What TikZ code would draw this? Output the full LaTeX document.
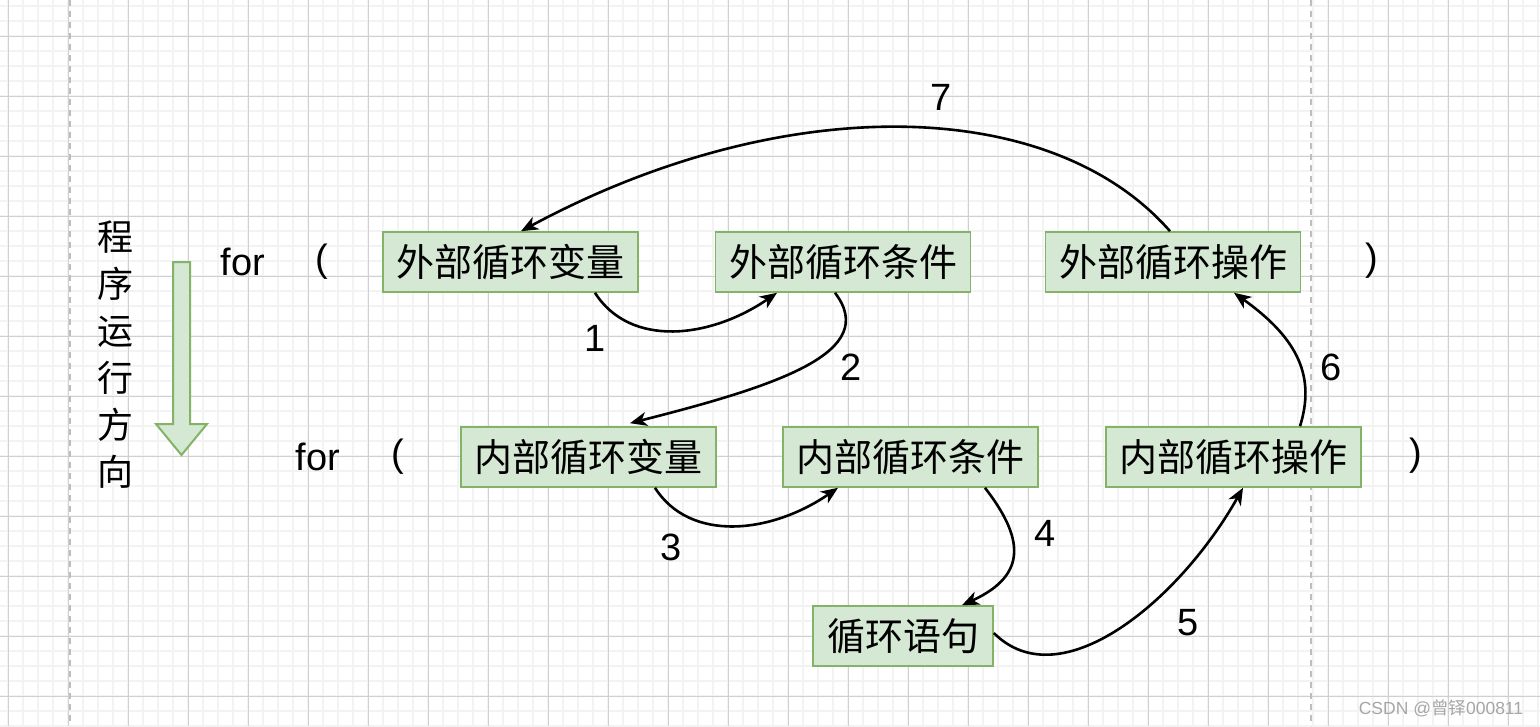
\documentclass[tikz,border=0pt]{standalone}
\usepackage{fontspec}
\setmainfont{Liberation Sans}
\newfontfamily\cjk{Noto Sans CJK SC}
\usetikzlibrary{arrows.meta}
\definecolor{boxfill}{HTML}{D5E8D4}
\definecolor{boxline}{HTML}{82B366}
\definecolor{gridmajor}{HTML}{D0D0D0}
\definecolor{gridminor}{HTML}{F3F3F3}
\definecolor{guide}{HTML}{BDBDBD}
\definecolor{wmark}{HTML}{A6A6A6}
\begin{document}
\begin{tikzpicture}[x=1pt,y=-1pt,
  stepbox/.style={draw=boxline, fill=boxfill, line width=1.6pt, minimum width=255pt, minimum height=60pt, inner sep=0pt, font=\cjk\fontsize{38}{40}\selectfont},
  txt/.style={inner sep=0pt, font=\fontsize{38}{40}\selectfont},
  flow/.style={line width=2.6pt, -{Stealth[length=17pt,width=14pt,inset=5pt]}},
  minorline/.style={gridminor, line width=2pt},
  majorline/.style={gridmajor, line width=1pt},
  guideline/.style={guide, line width=2pt, dash pattern=on 6pt off 5pt},
]
\useasboundingbox (0,0) rectangle (1540,726);
\fill[white] (0,0) rectangle (1540,726);
% grid
\foreach \i in {0,...,102} \draw[minorline] (8+15*\i,0) -- (8+15*\i,726);
\foreach \j in {0,...,48} \draw[minorline] (0,6+15*\j) -- (1540,6+15*\j);
\foreach \i in {0,...,25} \draw[majorline] (8+60*\i,0) -- (8+60*\i,726);
\foreach \j in {0,...,11} \draw[majorline] (0,36+60*\j) -- (1540,36+60*\j);
% guides
\draw[guideline] (70,0) -- (70,726);
\draw[guideline] (1311,0) -- (1311,726);

% direction text and block arrow
\node[anchor=north, inner sep=0pt, align=center, font=\cjk\fontsize{36}{47}\selectfont] (dir) at (115,221) {程\\序\\运\\行\\方\\向};
\draw[boxline, fill=boxfill, line width=2pt] (173,262) -- (190,262) -- (190,424) -- (207,424) -- (181.5,455) -- (156,424) -- (173,424) -- cycle;

% row texts
\node[txt, anchor=base] (for1) at (243,275) {for};
\node[txt] (lp1) at (322,262) {(};
\node[txt] (rp1) at (1372,261) {)};
\node[txt, anchor=base] (for2) at (318,470) {for};
\node[txt] (lp2) at (398,457) {(};
\node[txt] (rp2) at (1416,456) {)};

% boxes
\node[stepbox] (ov) at (510.5,262) {外部循环变量};
\node[stepbox] (oc) at (843,262) {外部循环条件};
\node[stepbox] (op) at (1173,262) {外部循环操作};
\node[stepbox] (iv) at (588.5,457) {内部循环变量};
\node[stepbox] (ic) at (910.5,457) {内部循环条件};
\node[stepbox] (ip) at (1233.5,457) {内部循环操作};
\node[stepbox, minimum width=180pt] (st) at (903,636) {循环语句};

% connectors
\draw[flow] ([xshift=84.5pt]ov.south) .. controls +(35,55) and +(-67,46) .. ([xshift=-66pt]oc.south);
\draw[flow] ([xshift=-8pt]oc.south) .. controls +(45,59) and +(150,-38) .. ([xshift=41.5pt,yshift=3pt]iv.north);
\draw[flow] ([xshift=66.5pt]iv.south) .. controls +(35,55) and +(-67,46) .. ([xshift=-72.5pt]ic.south);
\draw[flow] ([xshift=74.5pt]ic.south) .. controls +(37,48) and +(68,-31) .. ([xshift=59pt]st.north);
\draw[flow] ([yshift=3pt]st.east) .. controls +(67,67) and +(-63,112) .. ([xshift=9.5pt]ip.south);
\draw[flow] ([xshift=66.5pt]ip.north) .. controls +(15,-48) and +(66,47) .. ([xshift=61pt]op.south);
\draw[flow] ([xshift=-3pt]op.north) .. controls +(-120,-137) and +(260,-140) .. ([xshift=10.5pt]ov.north);

% connector labels
\node[txt] (l1) at (595,338) {1};
\node[txt] (l2) at (851,367) {2};
\node[txt] (l3) at (671,547) {3};
\node[txt] (l4) at (1045,533) {4};
\node[txt] (l5) at (1188,623) {5};
\node[txt] (l6) at (1331,367) {6};
\node[txt] (l7) at (941,97) {7};

% watermark
\node[inner sep=0pt, text=wmark, font=\fontsize{17.5}{20}\selectfont] (wm) at (1441,708) {CSDN @{\cjk 曾铎}000811};
\end{tikzpicture}
\end{document}
